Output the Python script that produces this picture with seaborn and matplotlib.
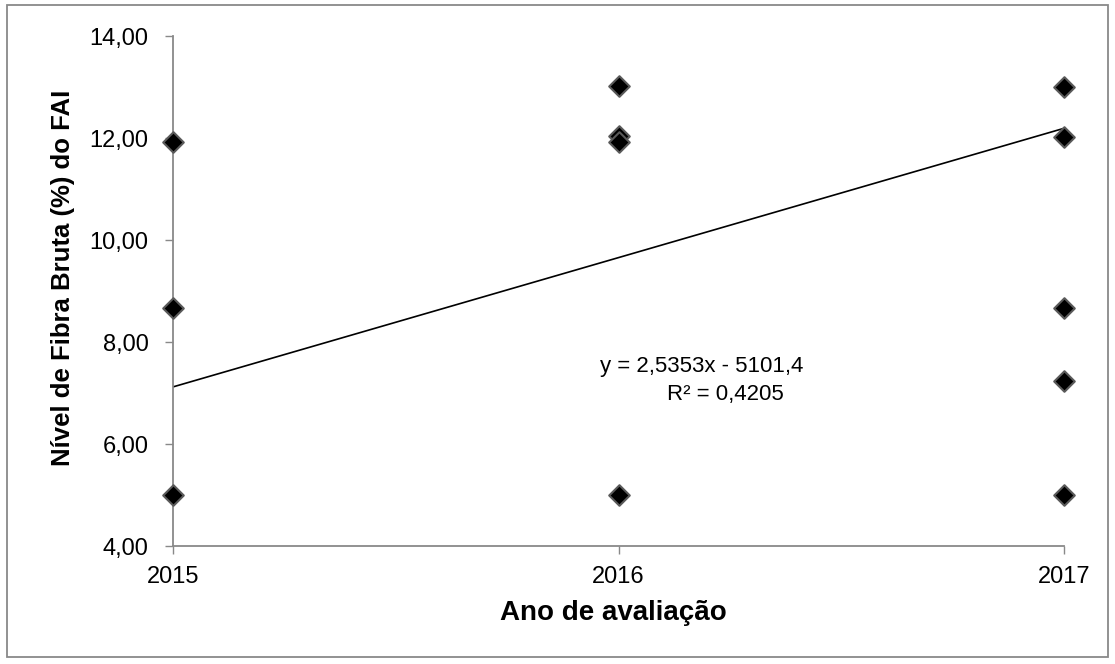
import matplotlib
matplotlib.use("Agg")
import matplotlib.pyplot as plt
import seaborn as sns
import pandas as pd
import numpy as np
from matplotlib.patches import Rectangle

# Data
years_2015 = [2015, 2015, 2015]
vals_2015 = [11.92, 8.66, 5.0]
years_2016 = [2016, 2016, 2016, 2016]
vals_2016 = [13.02, 12.03, 11.93, 5.0]
years_2017 = [2017, 2017, 2017, 2017, 2017]
vals_2017 = [13.0, 12.01, 8.66, 7.24, 5.0]

slope = 2.5353
intercept = -5101.51  # shown rounded as -5101,4
trend_x = [2015, 2017]
eq_line1 = "y = 2,5353x - 5101,4"
eq_line2 = "R² = 0,4205"

x_ticks = [2015, 2016, 2017]
y_ticks = [4, 6, 8, 10, 12, 14]
y_ticklabels = ["4,00", "6,00", "8,00", "10,00", "12,00", "14,00"]

df = pd.DataFrame({
    "ano": years_2015 + years_2016 + years_2017,
    "fibra": vals_2015 + vals_2016 + vals_2017,
})
trend = pd.DataFrame({"ano": trend_x, "fibra": [slope * x + intercept for x in trend_x]})

sns.set_theme(style="white")
plt.rcParams["font.family"] = ["Liberation Sans", "DejaVu Sans"]
plt.rcParams["text.color"] = "black"
plt.rcParams["axes.labelcolor"] = "black"

fig = plt.figure(figsize=(11.15, 6.64), dpi=100)
ax = fig.add_axes([173/1115, 1 - 546/664, (1064-173)/1115, (546-36)/664])

sns.lineplot(data=trend, x="ano", y="fibra", ax=ax, color="black", linewidth=1.2, zorder=2)
sns.scatterplot(data=df, x="ano", y="fibra", ax=ax, marker="D", s=110,
                color="black", edgecolor="#5a5a5a", linewidth=1.5, zorder=3, clip_on=False)

ax.set_xlim(2015, 2017)
ax.set_ylim(4, 14)
ax.set_xticks(x_ticks)
ax.set_xticklabels([str(x) for x in x_ticks])
ax.set_yticks(y_ticks)
ax.set_yticklabels(y_ticklabels)
ax.tick_params(axis="both", which="both", direction="out", length=5.5, width=1,
               color="#898989", labelcolor="black", labelsize=17,
               bottom=True, left=True)
ax.tick_params(axis="y", pad=12)
ax.tick_params(axis="x", pad=9)

for s in ["top", "right"]:
    ax.spines[s].set_visible(False)
for s in ["left", "bottom"]:
    ax.spines[s].set_color("#898989")
    ax.spines[s].set_linewidth(1.3)

ax.set_xlabel("Ano de avaliação", fontsize=20, fontweight="bold", va="center")
ax.set_ylabel("Nível de Fibra Bruta (%) do FAI", fontsize=18.5, fontweight="bold", va="center")
ax.xaxis.set_label_coords((613 - 173) / 891, (546 - 613) / 510)
ax.yaxis.set_label_coords((63 - 173) / 891, (546 - 278) / 510)
ax.grid(False)

ax.text(2016.187, 7.41, eq_line1, ha="center", va="baseline", fontsize=16)
ax.text(2016.241, 6.86, eq_line2, ha="center", va="baseline", fontsize=16)

fig.patches.append(Rectangle((7/1115, 1 - 657/664), (1108-7)/1115, (657-5)/664,
                             transform=fig.transFigure, fill=False, edgecolor="#898989",
                             linewidth=1.3))

fig.savefig("out.png", dpi=100)
